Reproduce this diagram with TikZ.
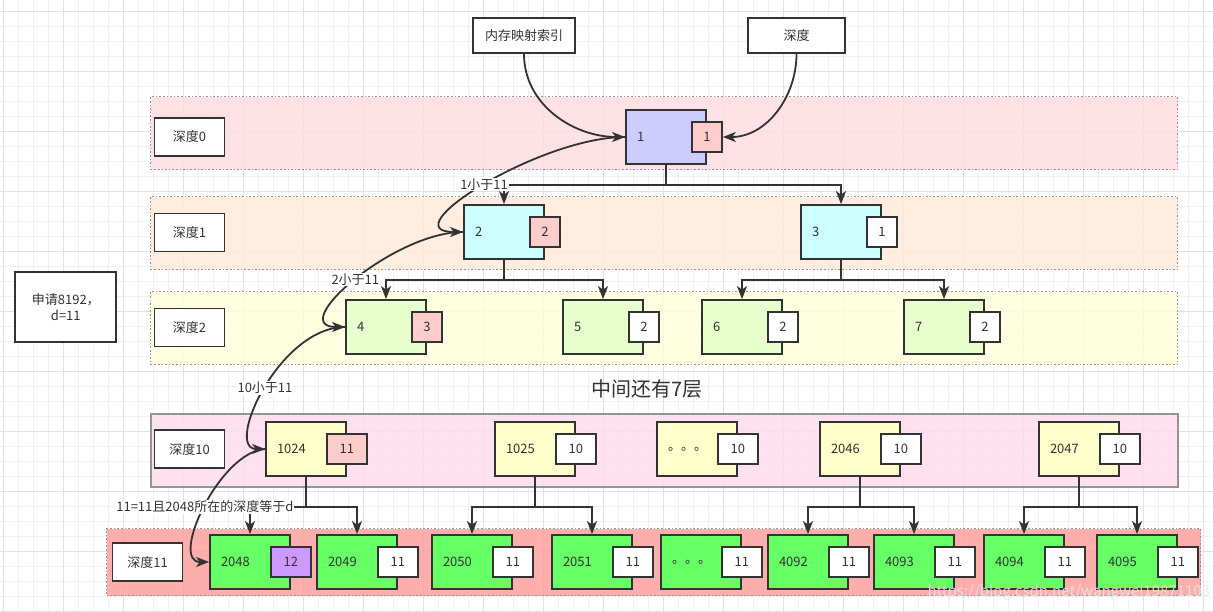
\documentclass[tikz,border=0pt]{standalone}
\usepackage{fontspec}
\setmainfont{Noto Sans CJK SC}
\usetikzlibrary{arrows.meta,positioning}
\definecolor{ink}{HTML}{333333}
\definecolor{gridmin}{HTML}{F1F1F1}
\definecolor{gridmaj}{HTML}{E2E2E2}
\definecolor{rim}{HTML}{959595}
\definecolor{bandA}{HTML}{FFDDE0}
\definecolor{bandB}{HTML}{FFEBDA}
\definecolor{bandC}{HTML}{FFFEDC}
\definecolor{bandD}{HTML}{FFDCEC}
\definecolor{bandE}{HTML}{FFA0A0}
\definecolor{blueN}{HTML}{CCCCFF}
\definecolor{cyanN}{HTML}{CCFFFF}
\definecolor{limeN}{HTML}{E6FFCC}
\definecolor{yellN}{HTML}{FFFFCC}
\definecolor{greenN}{HTML}{66FF66}
\definecolor{redN}{HTML}{FFCCCC}
\definecolor{purpN}{HTML}{CC99FF}

\tikzset{
  base/.style={font=\fontsize{13}{16}\selectfont, text=ink},
  plain/.style={base, draw=ink, line width=1.8pt, fill=white, minimum height=36pt, inner sep=0pt},
  layer/.style={draw=rim, line width=1.4pt, dash pattern=on 1.6pt off 2pt, fill opacity=0.85, inner sep=0pt, anchor=north west},
  blk/.style={base, draw=ink, line width=1.8pt, minimum width=80pt, minimum height=54pt, text width=58pt, inner xsep=11pt, inner ysep=0pt, align=left},
  tag/.style={base, draw=ink, line width=1.8pt, fill=white, minimum width=30pt, minimum height=30pt, inner sep=0pt},
  wtag/.style={tag, minimum width=40pt},
  conn/.style={draw=ink, line width=1.8pt, -{Stealth[length=13pt,width=10pt,inset=3.5pt]}},
  lbl/.style={base, fill=white, inner sep=1pt},
}

\begin{document}
\begin{tikzpicture}[x=1pt,y=-1pt]
  \useasboundingbox (0,0) rectangle (1213,611);
  % canvas grid
  \foreach \gx in {3,18,...,1213} \draw[gridmin,line width=1pt] (\gx,0) -- (\gx,611);
  \foreach \gy in {11,26,...,611} \draw[gridmin,line width=1pt] (0,\gy) -- (1213,\gy);
  \foreach \gx in {3,63,...,1213} \draw[gridmaj,line width=1pt] (\gx,0) -- (\gx,611);
  \foreach \gy in {11,71,...,611} \draw[gridmaj,line width=1pt] (0,\gy) -- (1213,\gy);

  % depth bands
  \node[layer, fill=bandA, minimum width=1027pt, minimum height=73pt] (band0) at (150,96) {};
  \node[layer, fill=bandB, minimum width=1027pt, minimum height=73pt] (band1) at (150,196) {};
  \node[layer, fill=bandC, minimum width=1027pt, minimum height=73pt] (band2) at (150,291) {};
  \node[layer, fill=bandD, solid, line width=2pt, minimum width=1027pt, minimum height=73pt] (band10) at (150,413) {};
  \node[layer, fill=bandE, minimum width=1094pt, minimum height=67pt] (band11) at (106,528) {};

  \node[plain, minimum width=70pt, minimum height=38pt] (d0) at (189.5,137) {深度0};
  \node[plain, minimum width=70pt, minimum height=38pt] (d1) at (189.5,232.5) {深度1};
  \node[plain, minimum width=70pt, minimum height=38pt] (d2) at (189.5,327.5) {深度2};
  \node[plain, minimum width=70pt, minimum height=38pt] (d10) at (189.5,449.3) {深度10};
  \node[plain, minimum width=70pt, minimum height=38pt] (d11) at (147.5,562.3) {深度11};

  \node[plain, minimum width=101pt, minimum height=70pt, align=center] (req) at (65.8,306.8) {申请8192，\\d=11};
  \node[plain, minimum width=102pt, minimum height=35pt] (mem) at (524,35.5) {内存映射索引};
  \node[plain, minimum width=97pt, minimum height=35pt] (dep) at (796.5,35.5) {深度};
  \node[base, font=\fontsize{20}{24}\selectfont] (gap) at (647,389) {中间还有7层};

  % tree levels
  \node[blk, fill=blueN] (n1) at (666,137) {1};
  \node[tag, fill=redN] (t1) at (n1.east) {1};
  \foreach \nm/\cx/\dv/\tc in {2/504/2/redN,3/841/1/white} {
    \node[blk, fill=cyanN] (n\nm) at (\cx,232) {\nm};
    \node[tag, fill=\tc] (t\nm) at (n\nm.east) {\dv};
  }
  \foreach \nm/\cx/\dv/\tc in {4/386/3/redN,5/603/2/white,6/742/2/white,7/944/2/white} {
    \node[blk, fill=limeN] (n\nm) at (\cx,327) {\nm};
    \node[tag, fill=\tc] (t\nm) at (n\nm.east) {\dv};
  }
  \foreach \nm/\txt/\cx/\dv/\tc in {1024/1024/306/11/redN,1025/1025/535/10/white,x/{。。。}/697/10/white,2046/2046/860/10/white,2047/2047/1079/10/white} {
    \node[blk, fill=yellN] (n\nm) at (\cx,449) {\txt};
    \node[wtag, fill=\tc] (t\nm) at (n\nm.east) {\dv};
  }
  \foreach \nm/\txt/\cx/\dv/\tc in {2048/2048/250/12/purpN,2049/2049/357/11/white,2050/2050/472/11/white,2051/2051/592/11/white,y/{。。。}/701/11/white,4092/4092/808/11/white,4093/4093/914/11/white,4094/4094/1024/11/white,4095/4095/1137/11/white} {
    \node[blk, fill=greenN] (n\nm) at (\cx,562) {\txt};
    \node[wtag, fill=\tc] (t\nm) at (n\nm.east) {\dv};
  }

  % child links
  \foreach \p/\c in {1/2,1/3,2/4,2/5,3/6,3/7}
    \draw[conn] (n\p.south) -- ++(0,20) -| (n\c.north);
  \foreach \p/\c in {1024/2048,1024/2049,1025/2050,1025/2051,2046/4092,2046/4093,2047/4094,2047/4095}
    \draw[conn] (n\p.south) -- ++(0,30) -| (n\c.north);

  % lookup path
  \draw[conn] (mem.south) to[out=-90,in=180] (n1.west);
  \draw[conn] (dep.south) to[out=-90,in=0] (t1.east);
  \draw[conn] (n1.west) .. controls +(-86,0) and +(-74,0) .. node[lbl] {1小于11} (n2.west);
  \draw[conn] (n2.west) .. controls +(-70,0) and +(-60,0) .. node[lbl] {2小于11} (n4.west);
  \draw[conn] (n4.west) .. controls +(-66,0) and +(-41,0) .. node[lbl] {10小于11} (n1024.west);
  \draw[conn] (n1024.west) .. controls +(-46,3) and +(-40,0) .. node[lbl] {11=11且2048所在的深度等于d} (n2048.west);

  \node[anchor=west, text=white!90!black, font=\fontsize{15}{15}\selectfont, opacity=0.85] (wm) at (924,592) {https://blog.csdn.net/wangwei19871103};
\end{tikzpicture}
\end{document}
